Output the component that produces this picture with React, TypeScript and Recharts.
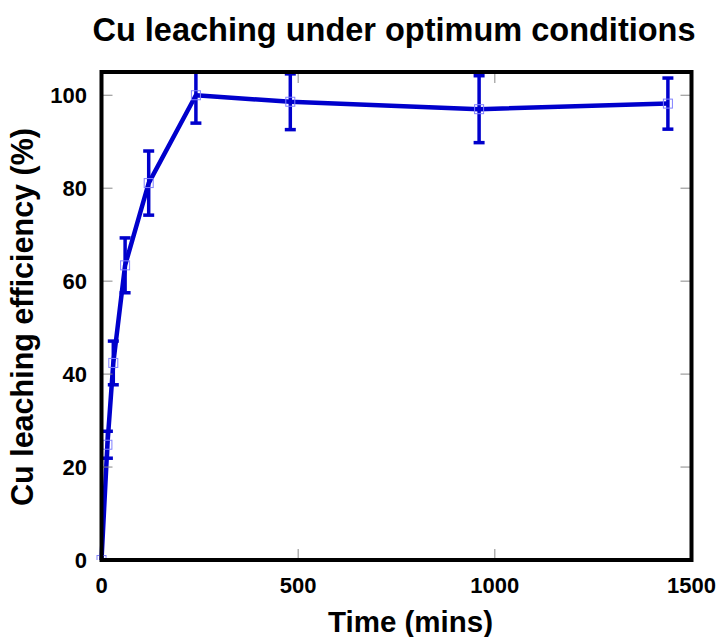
import React from 'react';
import { LineChart, Line, XAxis, YAxis, ErrorBar, ReferenceArea, Label } from 'recharts';

const times = [0, 15, 30, 60, 120, 240, 480, 960, 1440];
const efficiency = [0, 24.8, 42.4, 63.4, 81.1, 100, 98.6, 97, 98.2];
const errors = [0, 2.9, 4.7, 5.9, 6.9, 6, 6, 7.2, 5.5];
const xTicks = [0, 500, 1000, 1500];
const yTicks = [0, 20, 40, 60, 80, 100];

const data = times.map((t, i) => ({ t, eff: efficiency[i], err: errors[i] }));

const FONT = '"Liberation Sans", Arial, Helvetica, sans-serif';
const BLUE = '#0000CC';

const W = 719;
const H = 637;
const MARGIN = { top: 72, right: 27.5, bottom: 0, left: 0 };
const Y_AXIS_W = 101.5;
const X_AXIS_H = 77;
const PLOT_LEFT = MARGIN.left + Y_AXIS_W;
const PLOT_RIGHT = W - MARGIN.right;
const PLOT_TOP = MARGIN.top;
const PLOT_BOTTOM = H - MARGIN.bottom - X_AXIS_H;
const TICK_LEN = 11;
const TICK_FS = 22;

const SquareDot = (props: any) => {
  const { cx, cy, index } = props;
  if (cx == null || cy == null) return <g key={index} />;
  return (
    <rect key={index} x={cx - 4.5} y={cy - 4.5} width={9} height={9} fill="none" stroke="#8080ff" strokeWidth={1} />
  );
};

const LeftTick = (p: any) => {
  const y = p.y;
  return (
    <g>
      <line x1={PLOT_LEFT} x2={PLOT_LEFT + TICK_LEN} y1={y} y2={y} stroke="#888" strokeWidth={1} />
      <line x1={PLOT_RIGHT} x2={PLOT_RIGHT - TICK_LEN} y1={y} y2={y} stroke="#888" strokeWidth={1} />
      <text x={p.x} y={y} dy="0.355em" textAnchor="end" fontFamily={FONT} fontSize={TICK_FS} fontWeight={700} fill="#000">
        {p.payload.value}
      </text>
    </g>
  );
};

const BottomTick = (p: any) => {
  const x = p.x;
  return (
    <g>
      <line x1={x} x2={x} y1={PLOT_BOTTOM} y2={PLOT_BOTTOM - TICK_LEN} stroke="#888" strokeWidth={1} />
      <line x1={x} x2={x} y1={PLOT_TOP} y2={PLOT_TOP + TICK_LEN} stroke="#888" strokeWidth={1} />
      <text x={x} y={p.y} dy="0.716em" textAnchor="middle" fontFamily={FONT} fontSize={TICK_FS} fontWeight={700} fill="#000">
        {p.payload.value}
      </text>
    </g>
  );
};

const XTitle = (p: any) => {
  const vb = p.viewBox || {};
  return (
    <text x={vb.x + vb.width / 2 + 14} y={vb.y + 72} textAnchor="middle" fontFamily={FONT} fontSize={29.5} fontWeight={700} fill="#000">
      Time (mins)
    </text>
  );
};

const YTitle = (p: any) => {
  const vb = p.viewBox || {};
  const cx = vb.x + 33;
  const cy = vb.y + vb.height / 2 + 1;
  return (
    <text x={cx} y={cy} transform={`rotate(-90 ${cx} ${cy})`} textAnchor="middle" fontFamily={FONT} fontSize={30.5} fontWeight={700} fill="#000">
      Cu leaching efficiency (%)
    </text>
  );
};

export default function App() {
  return (
    <div style={{ position: 'absolute', left: 0, top: 0, width: W, height: H, background: '#fff' }}>
      <LineChart width={W} height={H} data={data} margin={MARGIN}>
        <XAxis
          dataKey="t"
          type="number"
          domain={[0, 1500]}
          ticks={xTicks}
          interval={0}
          height={X_AXIS_H}
          axisLine={false}
          tickLine={false}
          tickSize={0}
          tickMargin={17}
          tick={BottomTick}
        >
          <Label content={XTitle} />
        </XAxis>
        <YAxis
          type="number"
          domain={[0, 105]}
          ticks={yTicks}
          interval={0}
          width={Y_AXIS_W}
          allowDataOverflow
          axisLine={false}
          tickLine={false}
          tickSize={0}
          tickMargin={14.5}
          tick={LeftTick}
        >
          <Label content={YTitle} />
        </YAxis>
        <Line
          type="linear"
          dataKey="eff"
          stroke={BLUE}
          strokeWidth={4.5}
          strokeLinejoin="round"
          dot={SquareDot}
          activeDot={false}
          isAnimationActive={false}
        >
          <ErrorBar dataKey="err" direction="y" width={5.5} stroke={BLUE} strokeWidth={3.5} />
        </Line>
        <ReferenceArea
          x1={0}
          x2={1500}
          y1={105.45}
          y2={112}
          fill="#fff"
          fillOpacity={1}
          stroke="none"
          ifOverflow="visible"
          {...({ zIndex: 2000 } as any)}
        />
        <ReferenceArea
          x1={0}
          x2={1500}
          y1={0}
          y2={105}
          fill="none"
          stroke="#000"
          strokeWidth={4}
          ifOverflow="visible"
          {...({ zIndex: 2100 } as any)}
        />
      </LineChart>
      <div
        style={{
          position: 'absolute',
          left: 0,
          top: 14,
          width: 788,
          textAlign: 'center',
          fontFamily: FONT,
          fontSize: 32.5,
          lineHeight: '32px',
          fontWeight: 700,
          color: '#000',
          whiteSpace: 'nowrap',
          zIndex: 5,
        }}
      >
        Cu leaching under optimum conditions
      </div>
    </div>
  );
}
